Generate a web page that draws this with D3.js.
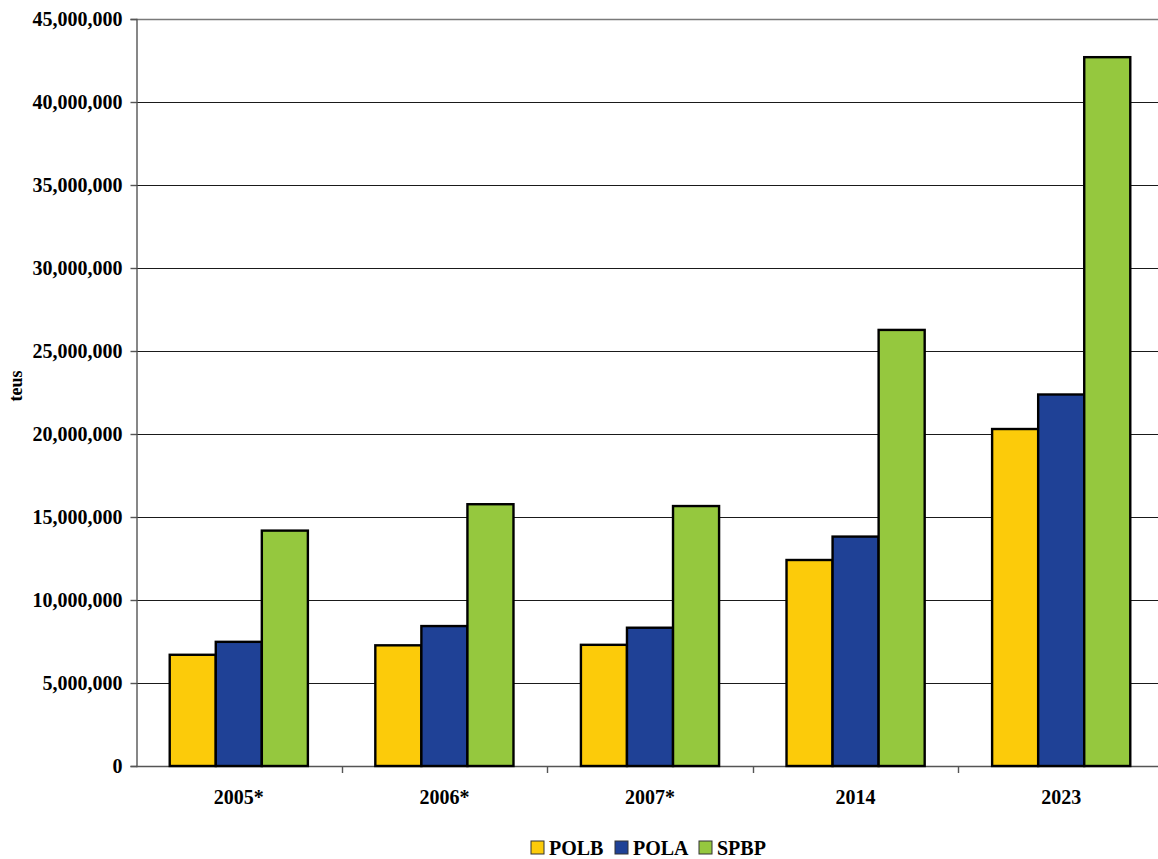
<!DOCTYPE html>
<html>
<head>
<meta charset="utf-8">
<script src="https://cdn.jsdelivr.net/npm/d3@7"></script>
<style>
  html, body { margin: 0; padding: 0; background: #fff; }
  svg { display: block; }
  text { font-family: "Liberation Serif", "Times New Roman", serif; font-weight: bold; fill: #000; }
</style>
</head>
<body>
<svg id="chart" width="1158" height="859"></svg>
<script>
// Container throughput (TEUs) by port and year
const years = ["2005*", "2006*", "2007*", "2014", "2023"];
const seriesNames = ["POLB", "POLA", "SPBP"];
const polb = [6700000, 7270000, 7300000, 12410000, 20300000];
const pola = [7480000, 8430000, 8330000, 13820000, 22380000];
const spbp = [14180000, 15770000, 15660000, 26270000, 42700000];
const colors = ["#FCCB0A", "#1F4196", "#95C83E"];
const yTicks = [0, 5000000, 10000000, 15000000, 20000000, 25000000, 30000000, 35000000, 40000000, 45000000];

const values = [polb, pola, spbp];
const svg = d3.select("#chart");

const plotLeft = 136, plotRight = 1164, plotTop = 19, plotBottom = 766;

const x = d3.scaleBand().domain(years).range([plotLeft, plotRight]).padding(0);
const bandW = x.bandwidth();
const groupW = bandW * 0.672;
const xs = d3.scaleBand().domain(seriesNames).range([(bandW - groupW) / 2, (bandW + groupW) / 2]).padding(0);
const y = d3.scaleLinear().domain([0, 45000000]).range([plotBottom, plotTop]);

// horizontal gridlines
svg.append("g").selectAll("line").data(yTicks.filter(d => d > 0)).join("line")
  .attr("x1", plotLeft).attr("x2", plotRight)
  .attr("y1", d => Math.round(y(d)) + 0.5).attr("y2", d => Math.round(y(d)) + 0.5)
  .attr("stroke", d => d === 45000000 ? "#7a7a7a" : "#1a1a1a")
  .attr("stroke-width", d => d === 45000000 ? 1.6 : 1.2);

// y axis
const yAxis = d3.axisLeft(y).tickValues(yTicks).tickSize(6).tickPadding(8)
  .tickFormat(d3.format(","));
const gy = svg.append("g").attr("transform", `translate(${plotLeft + 0.5},0)`).call(yAxis);
gy.attr("font-family", null).attr("font-size", null);
gy.select(".domain").attr("stroke", "#555").attr("stroke-width", 1.4);
gy.selectAll(".tick line").attr("stroke", "#555").attr("stroke-width", 1.4);
gy.selectAll(".tick text").style("font-size", "20px").attr("fill", "#000").attr("dy", "0.32em");

// x axis baseline and category separators
svg.append("line").attr("x1", plotLeft).attr("x2", plotRight)
  .attr("y1", plotBottom + 0.5).attr("y2", plotBottom + 0.5)
  .attr("stroke", "#555").attr("stroke-width", 1.4);
svg.append("g").selectAll("line").data(years.slice(1)).join("line")
  .attr("x1", d => Math.round(x(d)) + 0.5).attr("x2", d => Math.round(x(d)) + 0.5)
  .attr("y1", plotBottom).attr("y2", plotBottom + 7)
  .attr("stroke", "#555").attr("stroke-width", 1.4);
svg.append("g").selectAll("text").data(years).join("text")
  .attr("x", d => x(d) + bandW / 2).attr("y", 804)
  .attr("text-anchor", "middle").style("font-size", "20px").text(d => d);

// bars
const groups = svg.append("g").selectAll("g").data(years).join("g")
  .attr("transform", d => `translate(${x(d)},0)`);
groups.selectAll("rect")
  .data((d, i) => seriesNames.map((s, j) => ({ s, v: values[j][i], c: colors[j] })))
  .join("rect")
  .attr("x", d => xs(d.s))
  .attr("width", xs.bandwidth())
  .attr("y", d => y(d.v))
  .attr("height", d => plotBottom - y(d.v))
  .attr("fill", d => d.c)
  .attr("stroke", "#000")
  .attr("stroke-width", 2.4);

// y axis title
svg.append("text").attr("transform", "translate(22,386) rotate(-90)")
  .attr("text-anchor", "middle").style("font-size", "18px").text("teus");

// legend
const legendX = [531, 615, 699];
const lg = svg.append("g").selectAll("g").data(seriesNames).join("g")
  .attr("transform", (d, i) => `translate(${legendX[i]},848)`);
lg.append("rect").attr("x", 0).attr("y", -7).attr("width", 13).attr("height", 13)
  .attr("fill", (d, i) => colors[i]).attr("stroke", "#333").attr("stroke-width", 1);
lg.append("text").attr("x", 18).attr("y", 7)
  .style("font-size", "20px").text(d => d);
</script>
</body>
</html>
